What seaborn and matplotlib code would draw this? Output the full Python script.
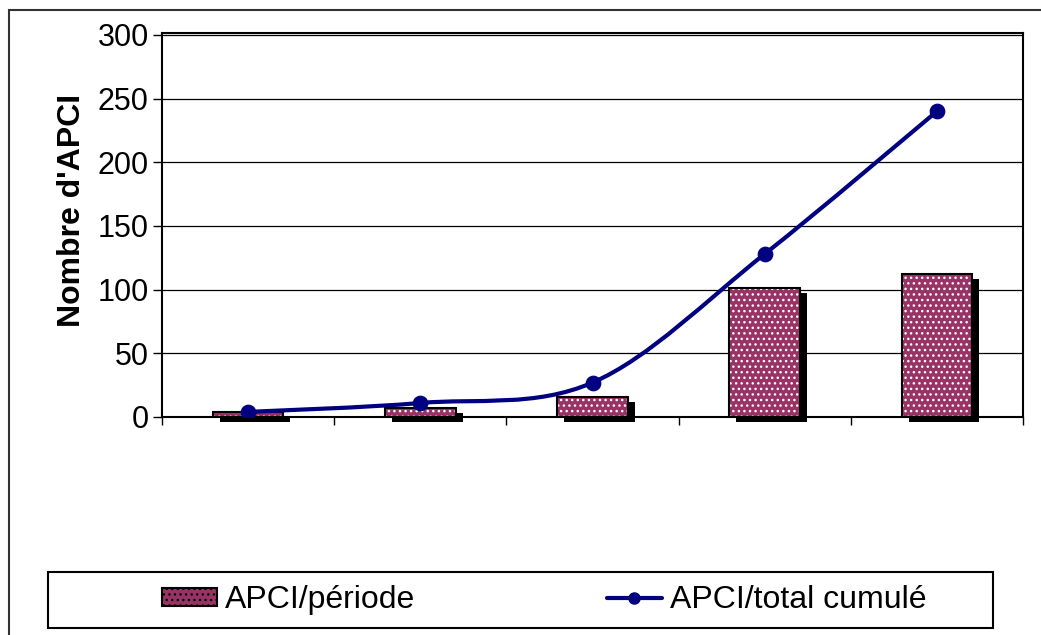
import numpy as np
import pandas as pd
import matplotlib
matplotlib.use("Agg")
import matplotlib.pyplot as plt
import seaborn as sns
from matplotlib.path import Path
from matplotlib.patches import PathPatch, Rectangle, Patch
from matplotlib.lines import Line2D
from matplotlib.transforms import ScaledTranslation

# data
periods = ["P1", "P2", "P3", "P4", "P5"]
apci_periode = [4, 7, 16, 101, 112]
apci_cumul = [4, 11, 27, 128, 240]
y_ticks = [0, 50, 100, 150, 200, 250, 300]

bar_color = "#993366"
line_color = "#000080"

sns.set_style("white")
plt.rcParams["font.family"] = ["Liberation Sans", "DejaVu Sans"]
plt.rcParams["hatch.linewidth"] = 1.0
for k in ["text.color", "axes.labelcolor", "xtick.color", "ytick.color"]:
    plt.rcParams[k] = "black"

df = pd.DataFrame({"periode": periods, "n": apci_periode})

fig = plt.figure(figsize=(10.41, 6.35), dpi=100)
ax = fig.add_axes([162 / 1041, 1 - 417 / 635, (1023 - 162) / 1041, (417 - 33) / 635])

# shadow bars
n0 = len(ax.patches)
sns.barplot(data=df, x="periode", y="n", color="black", width=0.41,
            errorbar=None, ax=ax, zorder=1, linewidth=0, saturation=1)
shadow = ax.patches[n0:]
off = ScaledTranslation(0.07, -0.05, fig.dpi_scale_trans)
for p in shadow:
    p.set_transform(ax.transData + off)
    p.set_clip_on(False)

# main bars with dotted pattern
sns.barplot(data=df, x="periode", y="n", color=bar_color, width=0.41,
            errorbar=None, ax=ax, zorder=2, hatch="...", edgecolor="white",
            linewidth=0, saturation=1)
# outline
sns.barplot(data=df, x="periode", y="n", color="black", width=0.41,
            errorbar=None, ax=ax, zorder=2.5, fill=False, linewidth=1.5,
            saturation=1)

# smoothed cumulative line (bezier through the points)
xs = np.arange(len(apci_cumul), dtype=float)
ys = np.array(apci_cumul, dtype=float)
pts = np.column_stack([xs, ys])
verts = [tuple(pts[0])]
codes = [Path.MOVETO]
for i in range(len(pts) - 1):
    p0 = pts[i - 1] if i > 0 else pts[i]
    p1, p2 = pts[i], pts[i + 1]
    p3 = pts[i + 2] if i + 2 < len(pts) else pts[i + 1]
    c1 = p1 + (p2 - p0) / 6
    c2 = p2 - (p3 - p1) / 6
    verts += [tuple(c1), tuple(c2), tuple(p2)]
    codes += [Path.CURVE4] * 3
ax.add_patch(PathPatch(Path(verts, codes), fill=False, edgecolor=line_color,
                       linewidth=3, capstyle="round", zorder=3))
sns.scatterplot(x=xs, y=ys, color=line_color, s=110, marker="o",
                edgecolor=line_color, ax=ax, zorder=4, legend=False)

ax.set_xlim(-0.5, len(periods) - 0.5)
ax.set_ylim(0, 301.5)
ax.set_yticks(y_ticks)
ax.set_yticklabels([str(v) for v in y_ticks], fontsize=22)
ax.set_xticks([])
ax.set_xticks(np.arange(-0.5, len(periods)), minor=True)
ax.tick_params(axis="x", which="minor", direction="out", length=6, width=1,
               color="black", bottom=True)
ax.tick_params(axis="y", direction="out", length=6.5, width=1, color="black",
               pad=3, left=True)
ax.set_xlabel("")
ax.set_ylabel("Nombre d'APCI", fontsize=23, fontweight="bold")
ax.yaxis.set_label_coords(-0.087, 0.539)
ax.yaxis.grid(True, color="black", linewidth=0.9)
ax.set_axisbelow(True)
for s in ax.spines.values():
    s.set_visible(True)
    s.set_color("black")
    s.set_linewidth(1.5)

# legend
handles = [Patch(facecolor=bar_color, edgecolor="white", hatch="...", linewidth=0),
           Line2D([0], [0], color=line_color, linewidth=3, marker="o", markersize=8)]
leg = fig.legend(handles, ["APCI/période", "APCI/total cumulé"], ncol=2,
                 loc="center left", bbox_to_anchor=(162 / 1041, 1 - 600 / 635),
                 frameon=False, fontsize=23, handlelength=1.72, handleheight=0.5,
                 handletextpad=0.25, columnspacing=6.0, borderpad=0,
                 borderaxespad=0)
leg.legend_handles[0].set_edgecolor("black")
leg.legend_handles[0].set_linewidth(1.5)

fig.add_artist(Rectangle((48 / 1041, 1 - 628 / 635), (993 - 48) / 1041, 56 / 635,
                         transform=fig.transFigure, fill=False, edgecolor="black",
                         linewidth=1.5))
# outer chart border
fig.add_artist(Rectangle((9 / 1041, -0.05), 1.2, 1.05 - 10 / 635,
                         transform=fig.transFigure, fill=False, edgecolor="#333333",
                         linewidth=1.5))

fig.savefig("out.png", dpi=100)
